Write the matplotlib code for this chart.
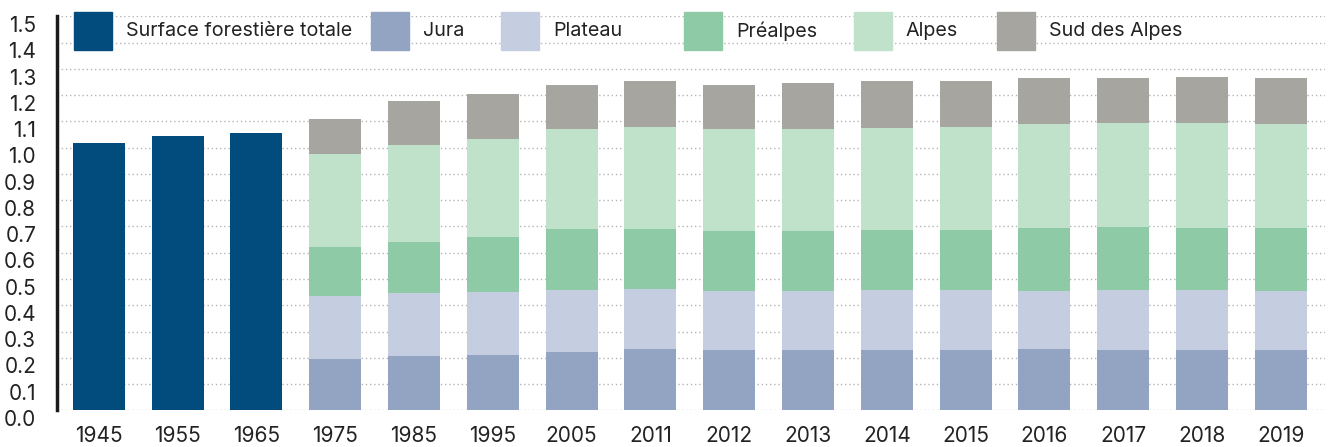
import matplotlib.pyplot as plt
from matplotlib.patches import Rectangle
from matplotlib.transforms import ScaledTranslation
import numpy as np

plt.rcParams['font.family'] = ['Inter', 'DejaVu Sans']

years = ['1945', '1955', '1965', '1975', '1985', '1995', '2005', '2011',
         '2012', '2013', '2014', '2015', '2016', '2017', '2018', '2019']

# total forest surface (only the first three years)
total = [1.018, 1.045, 1.056]

# regional parts, from 1975 on
jura = [0.195, 0.207, 0.211, 0.222, 0.234, 0.230, 0.230, 0.230, 0.230, 0.234, 0.230, 0.230, 0.230]
plateau = [0.240, 0.240, 0.240, 0.236, 0.228, 0.224, 0.224, 0.228, 0.228, 0.220, 0.228, 0.228, 0.224]
prealpes = [0.187, 0.194, 0.209, 0.233, 0.229, 0.229, 0.229, 0.229, 0.229, 0.240, 0.240, 0.236, 0.240]
alpes = [0.354, 0.369, 0.373, 0.380, 0.388, 0.388, 0.388, 0.388, 0.392, 0.396, 0.396, 0.400, 0.396]
sud_alpes = [0.133, 0.168, 0.172, 0.168, 0.175, 0.168, 0.176, 0.179, 0.175, 0.176, 0.172, 0.175, 0.176]

labels = ['Surface forestière totale', 'Jura', 'Plateau', 'Préalpes', 'Alpes', 'Sud des Alpes']
colors = ['#024b7d', '#92a4c2', '#c5cee0', '#8fcaa7', '#c0e2ca', '#a6a59f']

W, H = 1330, 447
fig = plt.figure(figsize=(W / 100, H / 100), dpi=100)
ax = fig.add_axes([57 / W, 36.7 / H, 1268 / W, 393.9 / H])

x = np.arange(len(years))
width = 0.66

ax.bar(x[:3], total, width, color=colors[0], zorder=2)

xs = x[3:]
bottom = np.zeros(len(xs))
for vals, col in zip([jura, plateau, prealpes, alpes, sud_alpes], colors[1:]):
    ax.bar(xs, vals, width, bottom=bottom, color=col, zorder=2)
    bottom += np.array(vals)

ax.set_xlim(-0.53, 15.56)
ax.set_ylim(0, 1.5)
ax.set_yticks(np.arange(0, 1.51, 0.1))
ax.set_yticklabels([f'{v:.1f}' for v in np.arange(0, 1.51, 0.1)])
ax.set_xticks(x)
ax.set_xticklabels(years)

ax.grid(axis='y', color='#b5b5b5', linestyle=(0, (1, 2)), linewidth=1, zorder=0)
ax.set_axisbelow(True)

for s in ['top', 'right', 'bottom']:
    ax.spines[s].set_visible(False)
ax.spines['left'].set_linewidth(2.5)
ax.spines['left'].set_color('#1a1a1a')

ax.tick_params(axis='both', length=0, labelsize=15, colors='#222222')
ax.tick_params(axis='y', pad=15)
ax.tick_params(axis='x', pad=11)

# y labels sit a bit below their gridline in the original
shift = ScaledTranslation(0, -5.5 / 72, fig.dpi_scale_trans)
for lbl in ax.get_yticklabels():
    lbl.set_transform(lbl.get_transform() + shift)

# legend drawn by hand, the spacing between entries is uneven in the original
legend_x = [74, 371, 501, 684, 854, 997]
box = 38
for lx, lab, col in zip(legend_x, labels, colors):
    fig.patches.append(Rectangle((lx / W, (H - 50) / H), box / W, box / H,
                                 transform=fig.transFigure, color=col, zorder=3))
    fig.text((lx + 52) / W, (H - 31) / H, lab, fontsize=14.2, color='#222222',
             va='center', ha='left')

fig.savefig('out.png', dpi=100)
